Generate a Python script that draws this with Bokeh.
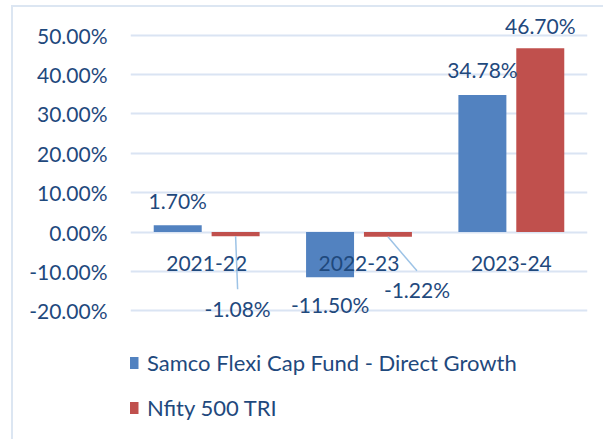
from bokeh.plotting import figure
from bokeh.models import (FixedTicker, Legend, LegendItem,
                          PrintfTickFormatter, Range1d)
from bokeh.embed import file_html
from bokeh.resources import INLINE
from bokeh.core.properties import value

# ---- data ----
years = ["2021-22", "2022-23", "2023-24"]
samco = [1.70, -11.50, 34.78]
nifty = [-1.08, -1.22, 46.70]
series_names = ["Samco Flexi Cap Fund - Direct Growth", "Nfity 500 TRI"]
y_ticks = [-20, -10, 0, 10, 20, 30, 40, 50]

# ---- style / layout ----
W, H = 603, 439
FRAME_LEFT = 130
FRAME_RIGHT_BORDER = 16
Y_START, Y_END = -52.69, 58.81
FONT = "Lato"
FSIZE = "21px"
TCOL = "#1F497D"
BLUE = "#5282C0"
RED = "#C0504D"
GRID = "#DAE4F3"
LEADER = "#9DC3E6"
EDGE = "#DCE6F2"
BAR_W = 0.315
DODGE = 0.19

frame_w = W - FRAME_LEFT - FRAME_RIGHT_BORDER
px_x = frame_w / 3.0
px_y = H / (Y_END - Y_START)

edge_css = (":host { background: "
            "linear-gradient(%s,%s) 11px 5px / 2px 100%% no-repeat, "
            "linear-gradient(%s,%s) 11px 5px / 100%% 2px no-repeat, white; }"
            % (EDGE, EDGE, EDGE, EDGE))

p = figure(width=W, height=H, output_backend="svg", toolbar_location=None,
           x_range=Range1d(0, 3), y_range=Range1d(Y_START, Y_END),
           x_axis_location=None, min_border_left=FRAME_LEFT,
           min_border_right=FRAME_RIGHT_BORDER, min_border_top=0,
           min_border_bottom=0, outline_line_color=None,
           background_fill_color=None, border_fill_color=None,
           stylesheets=[edge_css])

# axis
ax = p.yaxis[0]
ax.ticker = FixedTicker(ticks=y_ticks)
ax.formatter = PrintfTickFormatter(format="%.2f%%")
ax.axis_line_color = None
ax.major_tick_line_color = None
ax.minor_tick_line_color = None
ax.major_tick_out = 0
ax.major_tick_in = 0
ax.major_label_standoff = 23
ax.major_label_text_font = FONT
ax.major_label_text_font_size = FSIZE
ax.major_label_text_color = TCOL

p.xgrid.visible = False
p.ygrid.ticker = FixedTicker(ticks=y_ticks)
p.ygrid.grid_line_color = GRID
p.ygrid.grid_line_width = 2

# bars
centers = [i + 0.5 for i in range(len(years))]
xs_s = [c - DODGE for c in centers]
xs_n = [c + DODGE for c in centers]
p.vbar(x=xs_s, top=samco, bottom=0, width=BAR_W, fill_color=BLUE, line_color=None)
p.vbar(x=xs_n, top=nifty, bottom=0, width=BAR_W, fill_color=RED, line_color=None)

# zero-size square markers on the bar ends: used only as square legend swatches
sw1 = p.scatter(x=xs_s, y=samco, marker="square", size=0, fill_color=BLUE, line_color=None)
sw2 = p.scatter(x=xs_n, y=nifty, marker="square", size=0, fill_color=RED, line_color=None)

# category labels (axis labels next to the zero line)
p.text(x=centers, y=[0] * len(years), text=years, y_offset=31,
       text_align="center", text_baseline="middle",
       text_font=value(FONT), text_font_size=FSIZE, text_color=TCOL)

# data labels: pixel offsets from bar ends (down positive)
samco_dy = [-25, 27, -26]
samco_dx = [0, 0, 0]
nifty_dy = [72, 53, -23]
nifty_dx = [2, 29, 0]
leader = [True, True, False]

def fmt(v):
    return "%.2f%%" % v

for xs, vals, dxs, dys in ((xs_s, samco, samco_dx, samco_dy), (xs_n, nifty, nifty_dx, nifty_dy)):
    for x, v, dx, dy in zip(xs, vals, dxs, dys):
        p.text(x=[x], y=[v], text=[fmt(v)], x_offset=dx, y_offset=dy,
               text_align="center", text_baseline="middle",
               text_font=value(FONT), text_font_size=FSIZE, text_color=TCOL)

# leader lines for displaced nifty labels
lx0, ly0, lx1, ly1 = [], [], [], []
for x, v, dx, dy, has in zip(xs_n, nifty, nifty_dx, nifty_dy, leader):
    if has:
        lx0.append(x)
        ly0.append(v)
        lx1.append(x + dx / px_x)
        ly1.append(v - (dy - 19) / px_y)
p.segment(x0=lx0, y0=ly0, x1=lx1, y1=ly1, line_color=LEADER, line_width=1.5)

# legend
legend = Legend(items=[LegendItem(label=series_names[0], renderers=[sw1]),
                       LegendItem(label=series_names[1], renderers=[sw2])],
                location=(-13, 14), orientation="vertical",
                glyph_width=30, glyph_height=35, label_standoff=0,
                label_height=35, spacing=10, padding=0, margin=0,
                label_text_font=FONT, label_text_font_size="22px",
                label_text_color=TCOL, background_fill_alpha=0,
                border_line_color=None)
p.add_layout(legend, "center")

open("out.html", "w").write(file_html(p, INLINE))
